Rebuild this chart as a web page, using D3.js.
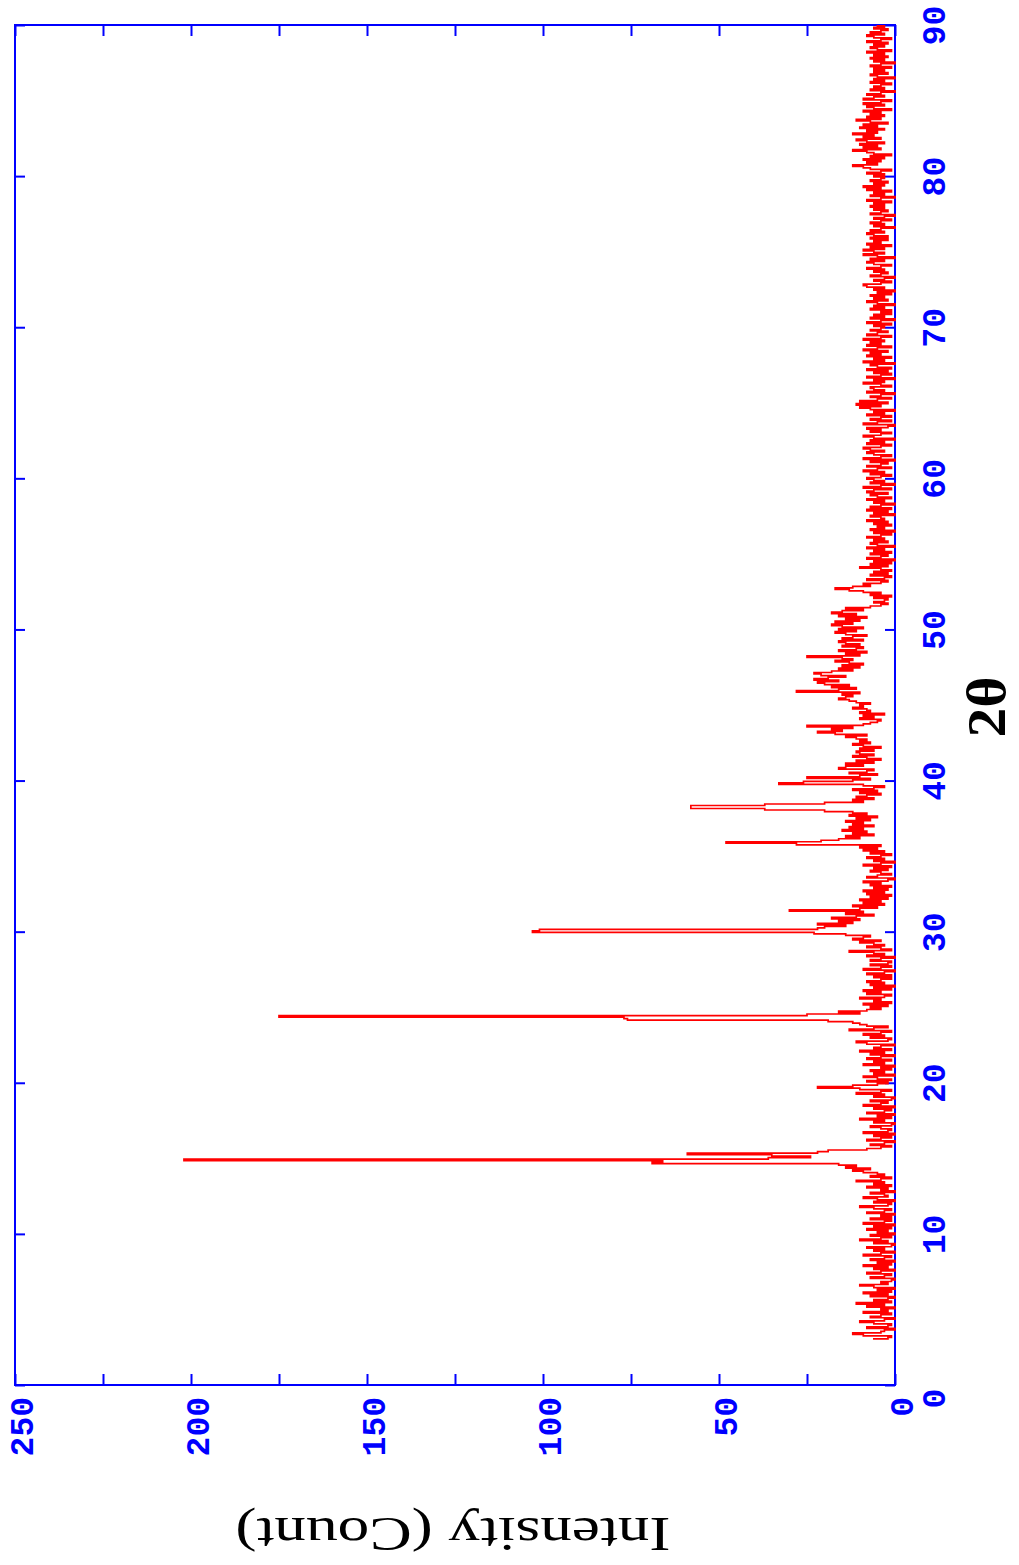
<!DOCTYPE html>
<html>
<head>
<meta charset="utf-8">
<script src="https://cdn.jsdelivr.net/npm/d3@7"></script>
<style>
  html, body { margin: 0; padding: 0; background: #fff; }
  svg { display: block; }
</style>
</head>
<body>
<svg id="chart" width="1019" height="1565"></svg>
<script>
// Powder diffraction scan: counts sampled every 0.1° of 2θ, starting at 3.0°.
const thetaStart = 3.0;
const thetaStep = 0.1;

// One row per degree of 2θ (x.0 … x.9).
const countRows = [
  /* 3 */ [6,2,1,9,12,4,3,0,8,2],
  /* 4 */ [1,6,10,3,0,7,4,1,9,2],
  /* 5 */ [4,0,8,3,11,1,6,2,0,7],
  /* 6 */ [2,9,1,5,0,6,10,2,4,1],
  /* 7 */ [0,7,3,1,8,4,0,6,2,9],
  /* 8 */ [1,5,0,7,3,1,9,4,0,6],
  /* 9 */ [3,8,1,0,6,2,10,4,1,7],
  /*10 */ [0,5,2,8,1,6,0,9,3,1],
  /*11 */ [7,1,4,0,8,3,1,6,10,2],
  /*12 */ [1,6,0,5,9,2,3,7,0,4],
  /*13 */ [2,8,1,6,3,11,4,1,7,3],
  /*14 */ [5,9,12,7,14,11,16,69,66,202],
  /*15 */ [36,24,35,59,22,19,8,4,1,7],
  /*16 */ [3,0,8,4,1,6,0,9,2,1],
  /*17 */ [4,7,1,0,6,3,10,1,5,0],
  /*18 */ [8,3,1,6,0,9,4,2,7,1],
  /*19 */ [0,6,3,11,4,1,10,22,12,5],
  /*20 */ [2,8,1,5,9,0,6,3,7,1],
  /*21 */ [4,0,9,3,6,1,8,4,0,7],
  /*22 */ [3,10,1,6,4,0,8,11,2,1],
  /*23 */ [7,3,9,4,1,13,6,2,8,10],
  /*24 */ [12,19,76,77,175,25,10,16,8,4],
  /*25 */ [7,2,9,1,6,4,10,3,1,8],
  /*26 */ [4,9,1,6,0,7,3,8,4,1],
  /*27 */ [6,1,8,3,0,9,4,1,7,2],
  /*28 */ [1,7,4,0,8,3,6,13,1,4],
  /*29 */ [8,3,6,10,4,12,9,7,14,23],
  /*30 */ [103,101,22,20,14,22,12,16,10,18],
  /*31 */ [11,6,14,9,30,10,5,12,3,9],
  /*32 */ [4,10,2,7,1,8,3,9,2,6],
  /*33 */ [1,7,4,9,2,0,8,5,1,4],
  /*34 */ [7,2,6,1,9,4,0,6,3,8],
  /*35 */ [4,1,7,3,9,5,10,4,28,48],
  /*36 */ [21,16,10,14,6,12,8,15,9,13],
  /*37 */ [6,12,9,14,7,11,5,13,8,12],
  /*38 */ [20,37,58,58,37,20,9,12,6,11],
  /*39 */ [8,4,10,5,12,6,3,9,33,26],
  /*40 */ [12,7,25,10,5,13,8,6,16,14],
  /*41 */ [9,14,6,11,4,8,12,6,10,11],
  /*42 */ [6,10,4,9,12,7,10,8,11,14],
  /*43 */ [8,17,22,15,18,12,25,9,7,5],
  /*44 */ [4,10,6,9,3,10,7,8,12,9],
  /*45 */ [10,7,11,13,16,14,12,15,10,28],
  /*46 */ [16,11,18,13,20,22,16,23,19,14],
  /*47 */ [21,23,18,12,16,10,15,9,13,17],
  /*48 */ [12,15,25,10,14,8,16,11,9,15],
  /*49 */ [10,14,16,9,15,12,8,14,17,11],
  /*50 */ [16,9,15,18,12,17,10,14,8,16],
  /*51 */ [11,18,15,9,14,7,4,2,6,3],
  /*52 */ [2,6,1,7,4,9,13,17,12,7],
  /*53 */ [9,4,2,8,3,1,7,2,6,1],
  /*54 */ [4,10,2,7,1,6,0,8,4,2],
  /*55 */ [7,1,6,3,8,0,5,7,2,6],
  /*56 */ [3,8,4,1,6,0,7,3,5,1],
  /*57 */ [6,2,8,3,4,7,0,6,2,8],
  /*58 */ [1,7,4,0,6,3,8,1,5,7],
  /*59 */ [2,8,6,1,9,4,0,7,3,6],
  /*60 */ [8,4,1,7,3,9,5,1,8,4],
  /*61 */ [2,7,0,9,4,1,6,8,3,7],
  /*62 */ [9,4,1,8,3,7,0,6,9,4],
  /*63 */ [1,7,4,8,2,0,9,5,1,7],
  /*64 */ [4,1,8,3,6,0,7,10,4,11],
  /*65 */ [2,10,5,1,7,4,0,8,3,6],
  /*66 */ [7,1,4,9,3,6,0,8,4,1],
  /*67 */ [6,2,8,1,5,7,0,9,3,6],
  /*68 */ [1,8,4,7,2,9,5,1,8,4],
  /*69 */ [7,3,9,4,1,8,5,2,7,4],
  /*70 */ [3,6,1,8,4,0,7,3,6,1],
  /*71 */ [4,1,7,3,6,0,5,8,2,6],
  /*72 */ [3,7,1,5,0,6,3,8,9,4],
  /*73 */ [1,6,3,0,7,4,2,6,3,8],
  /*74 */ [4,1,6,8,3,7,0,5,9,3],
  /*75 */ [6,9,3,7,1,8,4,6,2,7],
  /*76 */ [2,6,8,3,7,4,0,6,3,7],
  /*77 */ [4,1,6,3,0,7,4,2,6,3],
  /*78 */ [7,3,6,1,8,4,0,7,3,6],
  /*79 */ [1,8,4,9,3,6,2,7,4,3],
  /*80 */ [6,3,8,4,1,7,9,12,5,8],
  /*81 */ [4,9,3,7,1,6,8,12,4,9],
  /*82 */ [5,10,3,8,11,4,9,6,12,5],
  /*83 */ [8,3,10,5,9,2,7,11,4,8],
  /*84 */ [3,7,4,9,1,6,8,3,9,4],
  /*85 */ [1,9,6,3,8,4,0,7,3,6],
  /*86 */ [4,1,7,3,6,0,5,7,2,6],
  /*87 */ [3,6,1,7,4,0,6,3,7,2],
  /*88 */ [6,3,8,1,5,7,3,6,2,8],
  /*89 */ [4,1,6,8,3,7,4,2,6,3],
  /*90 */ [5]
];

// Axis ticks
const thetaTicks = [0, 10, 20, 30, 40, 50, 60, 70, 80, 90];
const countTicks = [0, 25, 50, 75, 100, 125, 150, 175, 200, 225, 250];
const countLabels = [0, 50, 100, 150, 200, 250];

const xTitle = "2θ";
const yTitle = "Intensity (Count)";

const BLUE = "#0000ff";
const RED = "#ff0000";

const scan = countRows.flat().map((c, i) => ({
  theta: +(thetaStart + i * thetaStep).toFixed(1),
  count: c
}));

// The plot is laid on its side: 2θ runs bottom → top along the right edge,
// intensity runs right → left along the bottom edge.
const frame = { left: 15, right: 895, top: 25, bottom: 1385 };
const plotLen = frame.bottom - frame.top;   // length of the 2θ axis
const plotDepth = frame.right - frame.left; // length of the intensity axis

const thetaScale = d3.scaleLinear().domain([0, 90]).range([frame.bottom, frame.top]);
const countScale = d3.scaleLinear().domain([0, 250]).range([frame.right, frame.left]);

const svg = d3.select("#chart");

// 2θ axis (right edge) with ticks pointing into the plot
const thetaAxis = svg.append("g")
  .attr("transform", `translate(${frame.right},0)`)
  .call(d3.axisRight(thetaScale).tickValues(thetaTicks).tickSize(-10).tickFormat(d3.format("d")));

// mirrored 2θ ticks on the left edge
svg.append("g")
  .attr("transform", `translate(${frame.left},0)`)
  .call(d3.axisLeft(thetaScale).tickValues(thetaTicks).tickSize(-10).tickFormat(""));

// intensity axis (bottom edge)
const countAxis = svg.append("g")
  .attr("transform", `translate(0,${frame.bottom})`)
  .call(d3.axisBottom(countScale).tickValues(countTicks).tickSize(-11)
    .tickFormat(d => countLabels.includes(d) ? d : ""));

// mirrored intensity ticks on the top edge
svg.append("g")
  .attr("transform", `translate(0,${frame.top})`)
  .call(d3.axisTop(countScale).tickValues(countTicks).tickSize(-11).tickFormat(""));

svg.selectAll(".domain").remove();
svg.selectAll(".tick line").attr("stroke", BLUE).attr("stroke-width", 2);

// tick labels, turned to read bottom → top
thetaAxis.selectAll(".tick text")
  .attr("x", null).attr("dy", null).attr("y", null)
  .attr("text-anchor", "middle")
  .attr("transform", d => `translate(50,${d === 0 ? 13 : 0}) rotate(-90)`)
  .attr("fill", BLUE)
  .attr("font-family", "'Liberation Mono', 'Courier New', monospace")
  .attr("font-weight", "bold")
  .attr("font-size", 33);

countAxis.selectAll(".tick text")
  .attr("x", null).attr("dy", null).attr("y", null)
  .attr("text-anchor", "end")
  .attr("transform", "translate(17,12) rotate(-90)")
  .attr("fill", BLUE)
  .attr("font-family", "'Liberation Mono', 'Courier New', monospace")
  .attr("font-weight", "bold")
  .attr("font-size", 33);

// plot frame
svg.append("rect")
  .attr("x", frame.left).attr("y", frame.top)
  .attr("width", plotDepth).attr("height", plotLen)
  .attr("fill", "none").attr("stroke", BLUE).attr("stroke-width", 2);

// Diffraction trace, drawn in the upright frame (2θ across, counts up)
// and turned a quarter-turn so it sits on its side like the axes.
const thetaAlong = d3.scaleLinear().domain([0, 90]).range([0, plotLen]);
const countUp = d3.scaleLinear().domain([0, 250]).range([plotDepth, 0]);

const line = d3.line()
  .x(d => thetaAlong(d.theta))
  .y(d => countUp(d.count))
  .curve(d3.curveStep);

svg.append("g")
  .attr("transform", `translate(${frame.left},${frame.bottom}) rotate(-90)`)
  .append("path")
  .datum(scan)
  .attr("fill", "none")
  .attr("stroke", RED)
  .attr("stroke-width", 1.7)
  .attr("d", line);

// axis titles
svg.append("text")
  .attr("transform", `translate(1005,${(frame.top + frame.bottom) / 2 + 2}) rotate(-90)`)
  .attr("text-anchor", "middle")
  .attr("font-family", "'Liberation Serif', 'Times New Roman', serif")
  .attr("font-weight", "bold")
  .attr("font-size", 54)
  .attr("textLength", 61)
  .attr("lengthAdjust", "spacingAndGlyphs")
  .text(xTitle);

svg.append("text")
  .attr("transform", `translate(${(frame.left + frame.right) / 2 - 2},1518) rotate(180)`)
  .attr("text-anchor", "middle")
  .attr("font-family", "'Liberation Serif', 'Times New Roman', serif")
  .attr("font-size", 48)
  .attr("textLength", 435)
  .attr("lengthAdjust", "spacingAndGlyphs")
  .text(yTitle);
</script>
</body>
</html>
